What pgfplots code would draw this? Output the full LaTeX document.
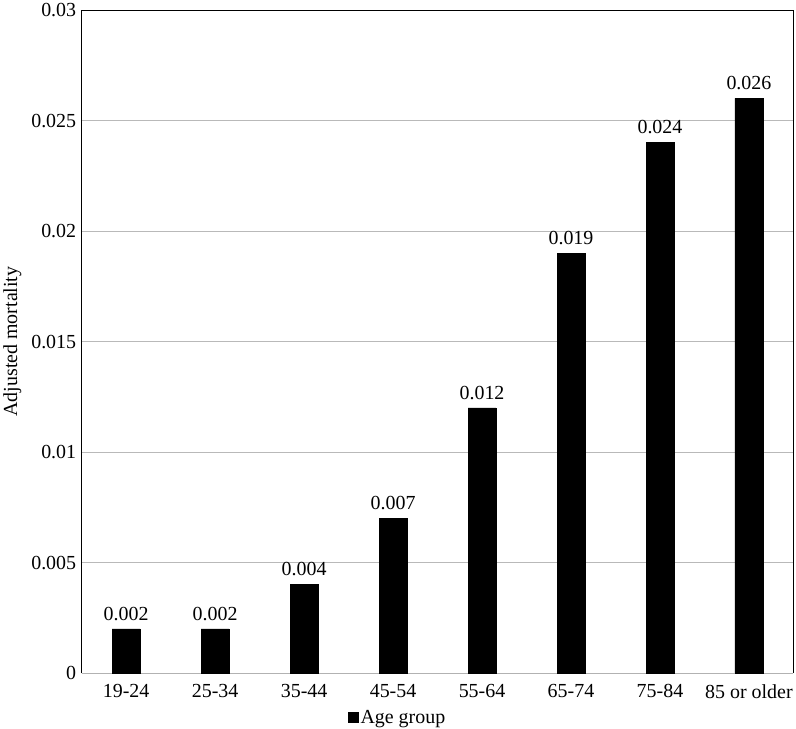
\documentclass[border=0pt]{standalone}
\usepackage{pgfplots}
\pgfplotsset{compat=1.18}
\usepackage{fontspec}
\setmainfont{Liberation Serif}
\begin{document}
\begin{tikzpicture}
\begin{axis}[
  scale only axis,
  width=714pt, height=665pt,
  xmin=-0.5, xmax=7.5,
  ymin=0, ymax=0.03,
  ytick={0,0.005,0.01,0.015,0.02,0.025,0.03},
  xtick={0,1,2,3,4,5,6,7},
  xticklabels={19-24,25-34,35-44,45-54,55-64,65-74,75-84,85 or older},
  /pgf/number format/assume math mode=true,
  yticklabel style={/pgf/number format/fixed, /pgf/number format/precision=3, xshift=-2pt},
  scaled y ticks=false,
  tick label style={font=\fontsize{20}{23}\selectfont},
  label style={font=\fontsize{20}{23}\selectfont},
  ylabel={Adjusted mortality},
  ylabel style={yshift=3pt},
  major tick length=0pt,
  ymajorgrids,
  grid style={gray!55, line width=0.8pt},
  axis line style={line width=1pt},
  axis x line*=bottom,
  x axis line style={gray!60},
  xticklabel style={yshift=-8pt},
  ybar, bar width=28pt,
  nodes near coords,
  every node near coord/.append style={yshift=5pt, font=\fontsize{20}{23}\selectfont, /pgf/number format/fixed, /pgf/number format/fixed zerofill, /pgf/number format/precision=3, /pgf/number format/assume math mode=true},
  legend style={at={(0.444,-0.05)}, anchor=north, draw=none, font=\fontsize{20}{23}\selectfont},
  legend cell align=left,
  clip=false,
]
\addplot[fill=black, draw=black, legend image code/.code={\fill[black] (0pt,-5pt) rectangle (10pt,5pt);}] coordinates {(0,0.002) (1,0.002) (2,0.004) (3,0.007) (4,0.012) (5,0.019) (6,0.024) (7,0.026)};
\addlegendentry{Age group}
\draw[line width=1pt] (rel axis cs:0,0) -- (rel axis cs:0,1) -- (rel axis cs:1,1) -- (rel axis cs:1,0);
\end{axis}
\end{tikzpicture}
\end{document}
